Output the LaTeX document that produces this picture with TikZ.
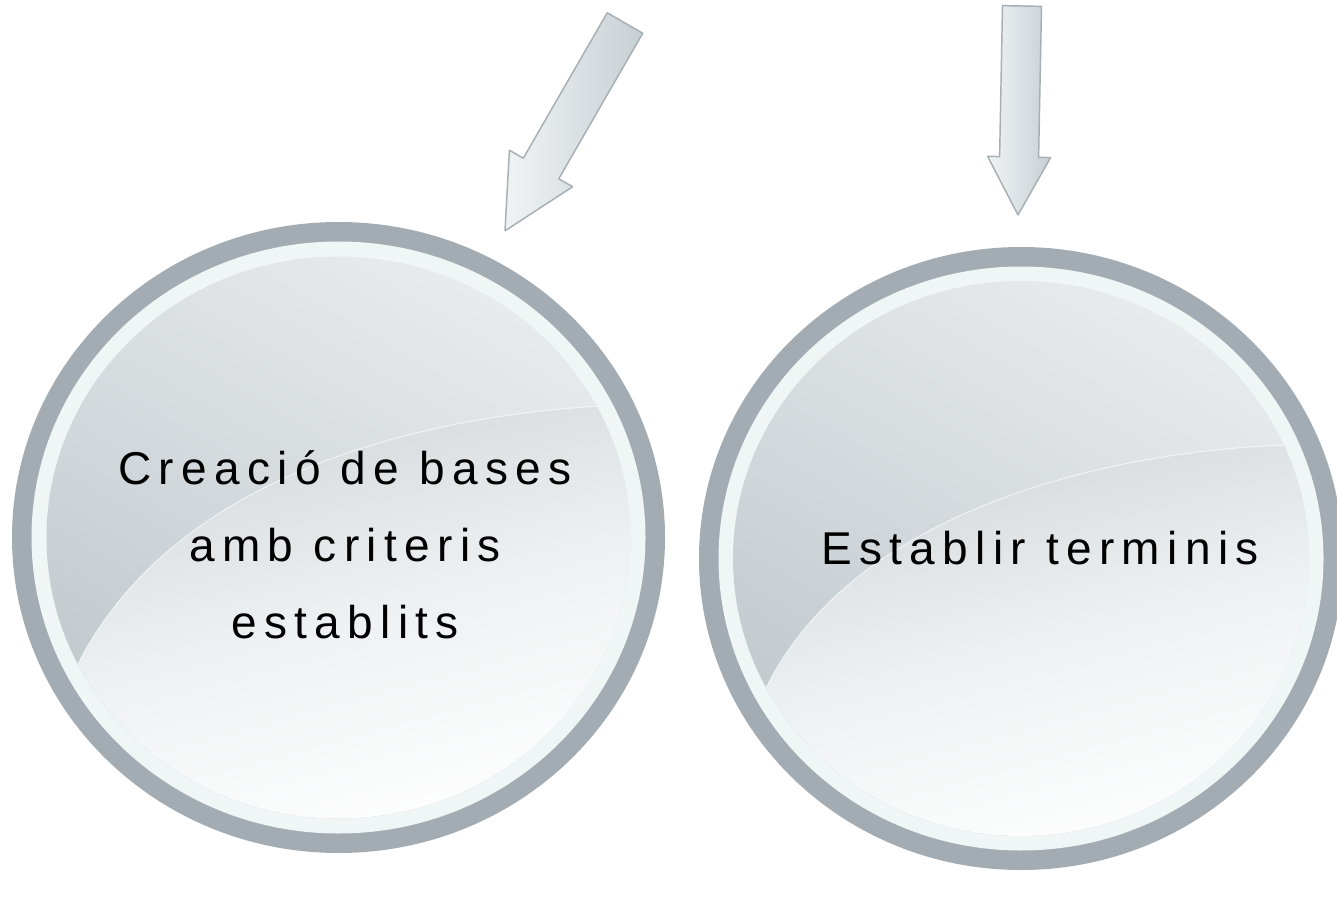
\documentclass[tikz,border=0pt]{standalone}
\usepackage{fontspec}
\newfontfamily\lblfont[LetterSpace=16]{Liberation Sans}
\definecolor{ringgray}{HTML}{A2ACB2}
\definecolor{bandwhite}{HTML}{F0F5F6}
\definecolor{innertop}{HTML}{E8EBED}
\definecolor{innerbot}{HTML}{C0C8CC}
\definecolor{glosstop}{HTML}{D1D6D9}
\definecolor{glossmid}{HTML}{EEF1F2}
\definecolor{glossbot}{HTML}{FFFFFF}
\definecolor{arrowedge}{HTML}{A7AFB4}
\definecolor{arrowlight}{HTML}{F0F3F4}
\definecolor{arrowdark}{HTML}{C8D0D4}
\begin{document}
\begin{tikzpicture}[x=0.75pt,y=-0.75pt,
  ring/.style={fill=ringgray},
  band/.style={fill=bandwhite},
  innerfill/.style={top color=innertop, bottom color=innerbot, shading angle=-30},
  gloss/.style={top color=glosstop, bottom color=glossbot, middle color=glossmid, shading angle=15},
  glossedge/.style={draw=white, opacity=0.6, line width=0.8pt},
  lbl/.style={font=\lblfont\fontsize{34.5}{57.75}\selectfont, align=center, text=black, inner sep=0pt},
  blockarrow/.style={draw=arrowedge, line width=1.1pt, left color=arrowlight, right color=arrowdark, line join=round}]
\useasboundingbox (0,0) rectangle (1337,898);

% ---- left disc ----
\coordinate (cl) at (338.5,537.5);
\fill[ring] (cl) ellipse [x radius=326.5, y radius=315.5];
\fill[band] (cl) ellipse [x radius=307, y radius=296];
\shade[innerfill] (cl) ellipse [x radius=292, y radius=281];
\begin{scope}
  \clip (cl) ellipse [x radius=292, y radius=281];
  \shade[gloss] (660,400) -- (600,406) .. controls (430,416) and (180,470) .. (80,660) -- (40,700) -- (40,830) -- (660,830) -- cycle;
  \draw[glossedge] (600,406) .. controls (430,416) and (180,470) .. (80,660);
\end{scope}
\node[lbl] (tl) at (345,545) {Creació de bases\\amb criteris\\establits};

% ---- right disc ----
\coordinate (cr) at (1021,558.5);
\fill[ring] (cr) ellipse [x radius=322, y radius=311.5];
\fill[band] (cr) ellipse [x radius=302.5, y radius=292];
\shade[innerfill] (cr) ellipse [x radius=288, y radius=277.5];
\begin{scope}
  \clip (cr) ellipse [x radius=288, y radius=277.5];
  \shade[gloss] (1340,440) -- (1289,445) .. controls (1120,450) and (860,505) .. (768,684) -- (720,720) -- (720,850) -- (1340,850) -- cycle;
  \draw[glossedge] (1289,445) .. controls (1120,450) and (860,505) .. (768,684);
\end{scope}
\node[lbl] (tr) at (1040,548) {Establir terminis};

% ---- arrows ----
\begin{scope}[shift={(625,23)}, rotate=-120]
  \path[blockarrow] (0,-20.5) -- (168,-20.5) -- (168,-36.5) -- (240,0) -- (168,36.5) -- (168,20.5) -- (0,20.5) -- cycle;
\end{scope}
\begin{scope}[shift={(1022,6)}, rotate=-91.1]
  \path[blockarrow] (0,-19.5) -- (151,-19.5) -- (151,-31.5) -- (209,0) -- (151,31.5) -- (151,19.5) -- (0,19.5) -- cycle;
\end{scope}
\end{tikzpicture}
\end{document}
